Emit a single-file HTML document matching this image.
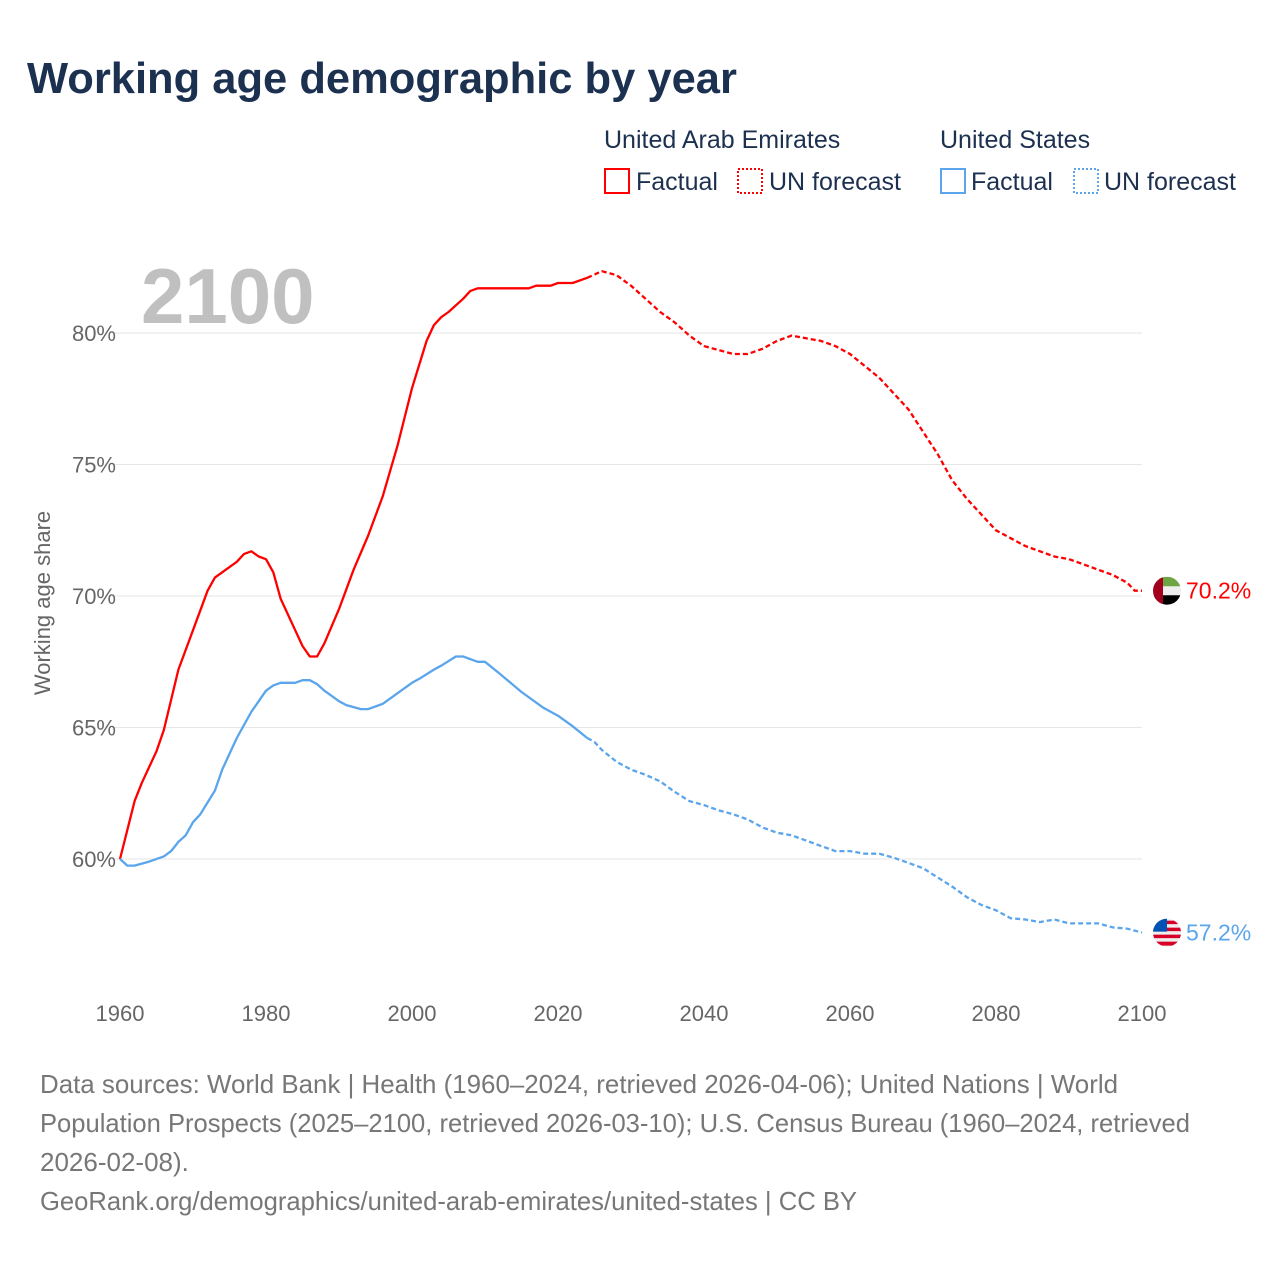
<!DOCTYPE html>
<html><head><meta charset="utf-8"><style>
body{margin:0;background:#fff;font-family:"Liberation Sans",sans-serif;}
#wrap{position:relative;width:1280px;height:1280px;overflow:hidden;}
text{font-family:"Liberation Sans",sans-serif;}
</style></head><body>
<div id="wrap">
<svg id="svg" width="1280" height="1280">
<text x="27" y="93" font-size="43.5" font-weight="bold" fill="#1c3050">Working age demographic by year</text>
<g font-size="25" fill="#1c3050">
<text x="604" y="148">United Arab Emirates</text>
<text x="940" y="148">United States</text>
<g><rect x="605" y="169" width="24" height="24" fill="none" stroke="#f00" stroke-width="2"/><text x="636" y="190">Factual</text></g>
<g><rect x="738" y="169" width="24" height="24" fill="none" stroke="#f00" stroke-width="2" stroke-dasharray="2,2"/><text x="769" y="190">UN forecast</text></g>
<g><rect x="941" y="169" width="24" height="24" fill="none" stroke="#5aa5ec" stroke-width="2"/><text x="971" y="190">Factual</text></g>
<g><rect x="1074" y="169" width="24" height="24" fill="none" stroke="#5aa5ec" stroke-width="2" stroke-dasharray="2,2"/><text x="1104" y="190">UN forecast</text></g>
</g>
<text x="141" y="323" font-size="78" font-weight="bold" fill="#c0c0c0">2100</text>
<g id="grid"></g><g id="series"></g>
<text transform="translate(50,603) rotate(-90)" text-anchor="middle" font-size="22" fill="#666">Working age share</text>
<g font-size="26" fill="#777">
<text x="40" y="1093" textLength="1078" lengthAdjust="spacingAndGlyphs">Data sources: World Bank | Health (1960–2024, retrieved 2026-04-06); United Nations | World</text>
<text x="40" y="1132" textLength="1150" lengthAdjust="spacingAndGlyphs">Population Prospects (2025–2100, retrieved 2026-03-10); U.S. Census Bureau (1960–2024, retrieved</text>
<text x="40" y="1171">2026-02-08).</text>
<text x="40" y="1210" textLength="817" lengthAdjust="spacingAndGlyphs">GeoRank.org/demographics/united-arab-emirates/united-states | CC BY</text>
</g>
</svg></div>
<script>
const uaeYears=[1960,1962,1963,1965,1966,1968,1970,1972,1973,1976,1977,1978,1979,1980,1981,1982,1984,1985,1986,1987,1988,1990,1992,1994,1996,1998,2000,2002,2003,2004,2005,2007,2008,2009,2016,2017,2019,2020,2022,2024,2026,2028,2030,2032,2034,2036,2038,2040,2044,2046,2048,2050,2052,2054,2056,2058,2060,2064,2068,2072,2074,2076,2080,2084,2088,2090,2092,2096,2098,2099,2100];
const uaeValues=[60.0,62.2,62.9,64.1,64.9,67.2,68.7,70.2,70.7,71.3,71.6,71.7,71.5,71.4,70.9,69.9,68.7,68.1,67.7,67.7,68.2,69.5,71.0,72.3,73.8,75.7,77.9,79.7,80.3,80.6,80.8,81.3,81.6,81.7,81.7,81.8,81.8,81.9,81.9,82.1,82.35,82.2,81.8,81.3,80.8,80.4,79.9,79.5,79.2,79.2,79.4,79.7,79.9,79.8,79.7,79.5,79.2,78.3,77.1,75.4,74.4,73.7,72.5,71.9,71.5,71.4,71.2,70.8,70.5,70.2,70.2];
const usYears=[1960,1961,1962,1964,1966,1967,1968,1969,1970,1971,1973,1974,1976,1978,1979,1980,1981,1982,1984,1985,1986,1987,1988,1990,1991,1993,1994,1996,1998,2000,2001,2003,2004,2006,2007,2009,2010,2012,2015,2018,2020,2022,2024,2025,2026,2028,2030,2032,2034,2036,2038,2040,2042,2044,2046,2048,2050,2052,2054,2056,2058,2060,2062,2064,2066,2068,2070,2072,2074,2076,2078,2080,2082,2084,2086,2088,2090,2094,2096,2098,2100];
const usValues=[60.0,59.75,59.75,59.9,60.1,60.3,60.65,60.9,61.4,61.7,62.6,63.4,64.6,65.6,66.0,66.4,66.6,66.7,66.7,66.8,66.8,66.65,66.4,66.0,65.85,65.7,65.7,65.9,66.3,66.7,66.85,67.2,67.35,67.7,67.7,67.5,67.5,67.05,66.35,65.75,65.45,65.05,64.6,64.45,64.15,63.7,63.4,63.2,62.95,62.55,62.2,62.05,61.85,61.7,61.5,61.2,61.0,60.9,60.7,60.5,60.3,60.3,60.2,60.2,60.05,59.85,59.65,59.3,58.95,58.55,58.25,58.05,57.75,57.7,57.6,57.7,57.55,57.55,57.4,57.35,57.2];
const forecastStart=2024;
const yTicks=[60,65,70,75,80];
const xTicks=[1960,1980,2000,2020,2040,2060,2080,2100];
const NS="http://www.w3.org/2000/svg";
const xS=y=>120+(y-1960)*(1142-120)/140;
const yS=v=>859-(v-60)*26.3;
const grid=document.getElementById('grid'),ser=document.getElementById('series');
function mk(t,a,p){const e=document.createElementNS(NS,t);for(const k in a)e.setAttribute(k,a[k]);p.appendChild(e);return e;}
yTicks.forEach(v=>{
 const l=mk('line',{x1:112,x2:1142,y1:yS(v),y2:yS(v),stroke:'#e6e6e6','stroke-width':1},grid);
 
 
 const t=mk('text',{x:116,y:yS(v)+8,'text-anchor':'end','font-size':22,fill:'#666'},grid);
 t.textContent=v+'%';
 
 
});
xTicks.forEach(y=>{
 const t=mk('text',{x:xS(y),y:1021,'text-anchor':'middle','font-size':22,fill:'#666'},grid);
 t.textContent=y;
 
 
});
function draw(years,vals,color,name){
 const a=[],b=[];
 years.forEach((y,i)=>{const p=xS(y).toFixed(1)+','+yS(vals[i]).toFixed(1);if(y<=forecastStart)a.push(p);if(y>=forecastStart)b.push(p);});
 const l1=mk('polyline',{points:a.join(' '),fill:'none',stroke:color,'stroke-width':2.3,'stroke-linejoin':'round'},ser);
 
 
 const l2=mk('polyline',{points:b.join(' '),fill:'none',stroke:color,'stroke-width':2.3,'stroke-dasharray':'5,3'},ser);
 
 
 const last=vals[vals.length-1],cy=yS(last),cx=1167;
 const t=mk('text',{x:1186,y:cy+8,'font-size':23,fill:color},ser);
 t.textContent=last.toFixed(1)+'%';
 
 
 return [cx,cy];
}
const [ux,uy]=draw(uaeYears,uaeValues,'#ff0000','uae');
const [sx,sy]=draw(usYears,usValues,'#5aa5ec','us');
const fu=document.createElementNS(NS,'g');ser.appendChild(fu);


fu.innerHTML=`<defs><clipPath id="cu"><circle cx="${ux}" cy="${uy}" r="14"/></clipPath><clipPath id="cs"><circle cx="${sx}" cy="${sy}" r="14"/></clipPath></defs>
<g clip-path="url(#cu)"><rect x="${ux-14}" y="${uy-14}" width="28" height="10" fill="#6da544"/><rect x="${ux-14}" y="${uy-4.5}" width="28" height="9" fill="#eee"/><rect x="${ux-14}" y="${uy+4.5}" width="28" height="10" fill="#000"/><rect x="${ux-14}" y="${uy-14}" width="10" height="28" fill="#a2001d"/></g>
<g clip-path="url(#cs)"><rect x="${sx-14}" y="${sy-14}" width="28" height="28" fill="#eee"/>
<rect x="${sx-14}" y="${sy-12}" width="28" height="3.5" fill="#d80027"/><rect x="${sx-14}" y="${sy-5}" width="28" height="3.5" fill="#d80027"/><rect x="${sx-14}" y="${sy+2}" width="28" height="3.5" fill="#d80027"/><rect x="${sx-14}" y="${sy+9}" width="28" height="4" fill="#d80027"/><rect x="${sx-14}" y="${sy-14}" width="14" height="13" fill="#0052b4"/></g>`;
</script>
</body></html>
